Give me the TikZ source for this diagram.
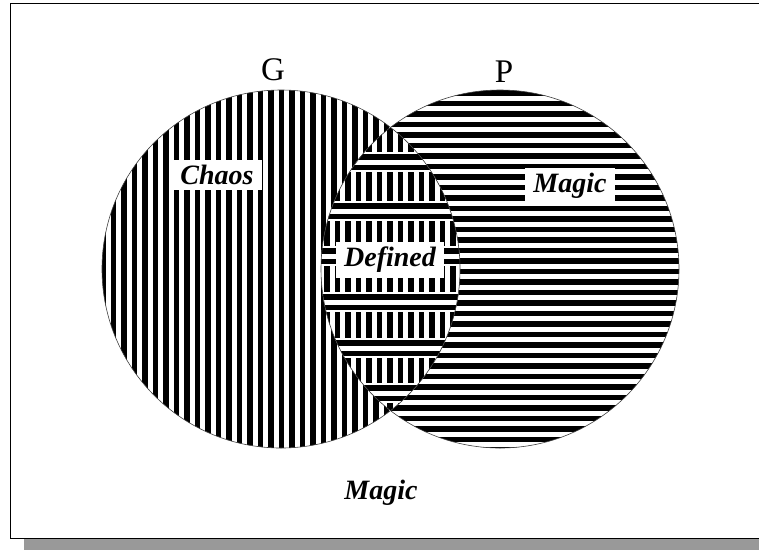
\documentclass[tikz,border=0pt]{standalone}
\usepackage{fontspec}
\setmainfont{Liberation Serif}
\begin{document}
\begin{tikzpicture}[x=1pt,y=-1pt,
  lbl/.style={font=\fontsize{28}{28}\selectfont\bfseries\itshape, fill=white, inner xsep=8pt, inner ysep=5pt},
  plain/.style={font=\fontsize{28}{28}\selectfont\bfseries\itshape, inner sep=0pt},
  setname/.style={font=\fontsize{33}{33}\selectfont, inner sep=0pt},
  outline/.style={draw=black!75, line width=0.6pt}]
\useasboundingbox (0,0) rectangle (759,550);
\fill[white] (0,0) rectangle (759,550);
% shadow and frame
\fill[black!40] (24,538) rectangle (759,550);
\draw[line width=1pt] (759,3) -- (10,3) -- (10,538) -- (759,538);
% circle G : vertical stripes
\begin{scope}
  \clip (281,269) circle [radius=179pt];
  \foreach \i in {0,...,36} \fill (100+\i*10.5,85) rectangle +(5.5,372);
\end{scope}
% circle P : horizontal stripes
\begin{scope}
  \clip (500,269) circle [radius=179pt];
  \foreach \i in {0,...,36} \fill (315,90+\i*10.5) rectangle +(372,5.5);
\end{scope}
% lens : alternating bands
\begin{scope}
  \clip (281,269) circle [radius=179pt];
  \clip (500,269) circle [radius=179pt];
  \fill[white] (300,80) rectangle (480,460);
  \foreach \i in {0,...,16} \fill (303+\i*10.5,80) rectangle +(5.5,380);
  \foreach \a in {152,201,246,292,338,383} {
    \fill[white] (300,\a) rectangle (480,\a+20);
    \fill (300,\a+2) rectangle (480,\a+7.5);
    \fill (300,\a+12.5) rectangle (480,\a+18);
  }
\end{scope}
% outlines
\draw[outline] (281,269) circle [radius=179pt];
\draw[outline] (500,269) circle [radius=179pt];
% labels
\node[setname] (G) at (273,70) {G};
\node[setname] (P) at (504,72) {P};
\node[lbl] (chaos) at (217,175) {Chaos};
\node[lbl] (magic1) at (570,186) {Magic};
\node[lbl] (defined) at (390,260) {Defined};
\node[plain] (magic2) at (381,493) {Magic};
\end{tikzpicture}
\end{document}
